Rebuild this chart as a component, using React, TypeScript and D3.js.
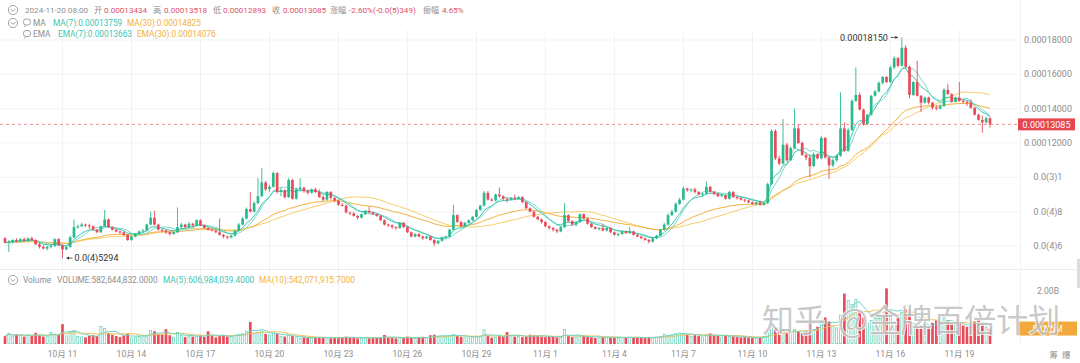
import React from "react";
import * as d3 from "d3";

const W = 1080;
const H = 363;
const UNIT = 1e-8; // prices below are in units of 0.00000001

const open = [
  6450,6200,6250,6350,6300,6400,6300,6450,6350,6100,
  5950,5850,5950,6000,6400,6050,5800,5950,6500,7100,
  7150,7250,7200,7150,6950,6800,7150,7550,7100,6950,
  6850,6800,6650,6350,6550,6700,6850,6900,7250,7650,
  7250,6950,6900,6800,6700,6800,7100,7250,7100,7300,
  7200,7500,7200,7050,6950,6900,6800,6650,6550,6500,
  6600,6900,7250,7600,8150,8000,8500,8900,9700,9300,
  9450,10250,9150,9250,8850,9850,8750,9300,9400,9200,
  9100,9300,9150,8850,8700,9150,8800,8650,8400,8350,
  7950,7900,7750,7650,7850,8050,7950,7850,7750,7500,
  7250,7200,7100,7050,7350,7100,6800,6550,6700,6550,
  6450,6550,6350,6150,6300,6500,6550,6950,7800,7400,
  7150,7350,7500,7700,8100,8350,9100,8700,8650,9000,
  8900,8750,8700,8800,8750,8850,8550,8200,8000,7700,
  7550,7400,7150,7050,6950,6850,7100,7800,7450,7250,
  7400,7850,7600,7300,7100,7000,7050,6900,7050,6800,
  6650,6700,6850,6750,6850,6650,6550,6450,6350,6250,
  6450,6600,6950,7250,7800,8000,8450,8700,9350,9250,
  9300,9150,9000,9050,9450,9150,9050,8900,8950,8750,
  9150,8850,8800,8700,8650,8550,8450,8550,8400,8500,
  9600,12700,11100,10800,11900,11000,11700,12850,12000,11300,
  11150,10650,11350,11100,12300,11150,10700,11000,11250,12850,
  11550,12750,14450,14800,13950,13100,13650,14750,15000,15500,
  15850,15550,16400,16950,16500,17550,16450,14800,15550,14750,
  14350,14650,14350,14050,14000,14150,15100,14850,14400,14650,
  14450,14400,14350,14050,13650,13350,13200,13434,
];

const high = [
  6520,6350,6400,6450,6450,6500,6500,6550,6400,6200,
  6050,6000,6100,6450,6450,6100,6000,6600,7550,7250,
  7350,7300,7300,7200,7000,7200,8100,7600,7150,7000,
  6900,6850,6700,6600,6750,6900,7000,7300,8000,8050,
  7300,7000,6950,6850,6850,8250,7350,7300,7400,7350,
  7550,7550,7250,7100,7000,6950,7600,6700,6600,6650,
  6950,7350,7700,8250,9150,8600,9950,10550,9800,9550,
  10350,10300,9400,9300,9950,9900,9400,9950,9450,9300,
  9350,9400,9300,8950,9200,9200,8850,8700,8500,8400,
  8000,8000,7800,7900,8100,8300,8000,7900,7800,7550,
  7300,7250,7150,7400,7400,7150,6850,6750,6750,6600,
  6600,6600,6400,6350,6550,6600,7000,8400,7850,7450,
  7400,7550,7750,8150,8400,9200,9200,8800,9050,9400,
  8950,8800,8850,9000,8900,8900,8600,8250,8050,7750,
  7600,7450,7200,7100,7000,7150,8500,7850,7500,7450,
  7900,7900,7650,7350,7150,7100,7300,7100,7100,6850,
  6750,6900,6900,7100,6900,6700,6600,6500,6400,6500,
  6650,7000,7350,7900,8100,8550,8800,9450,9400,9350,
  9400,9200,9100,9750,9500,9200,9100,9050,9000,9200,
  9200,8900,8850,8750,8700,8600,8600,8650,8550,9700,
  12800,12800,11250,13400,12000,11800,14000,13100,12100,11400,
  11350,11450,11400,12400,12350,11200,11100,11350,14950,13200,
  12850,14550,16400,14950,14000,13700,14800,15100,15600,15900,
  15900,16500,17050,17000,18150,17700,16500,15600,16800,14800,
  14700,14700,14400,14200,14250,15200,15450,14900,14700,15550,
  14550,14450,14550,14100,13700,13600,13550,13518,
];

const low = [
  6150,5650,6150,6200,6200,6250,6250,6300,6050,5850,
  5800,5750,5850,5950,6000,5294,5750,5900,6450,7000,
  7100,7100,7000,6900,6750,6750,7100,7050,6900,6800,
  6700,6600,6300,6300,6500,6650,6800,6850,7200,7200,
  6900,6800,6700,6600,6650,6750,7000,7050,7050,7100,
  7150,7150,7000,6900,6850,6750,6600,6450,6400,6450,
  6550,6850,7200,7550,7950,7950,8450,8850,9200,9150,
  9400,9050,8900,8750,8800,8700,8700,9250,9100,9000,
  9050,9100,8800,8600,8650,8700,8550,8350,8300,7900,
  7800,7700,7550,7600,7800,7900,7800,7700,7450,7200,
  7100,7000,6950,7000,7050,6750,6500,6500,6500,6350,
  6400,6300,6000,6100,6250,6450,6500,6900,7350,7100,
  7100,7300,7450,7650,8050,8300,8650,8600,8600,8800,
  8650,8550,8650,8700,8700,8500,8150,7950,7650,7500,
  7300,7100,6950,6850,6750,6800,7050,7400,7200,7150,
  7350,7550,7250,7050,6950,6900,6850,6850,6750,6600,
  6550,6650,6700,6700,6600,6500,6400,6300,6150,6200,
  6400,6550,6900,7200,7750,7950,8400,8650,9150,9150,
  9050,8950,8900,9000,9100,8950,8850,8850,8700,8700,
  8800,8700,8650,8550,8500,8400,8350,8350,8350,8450,
  9550,11000,10700,10750,10900,10950,11650,11950,11250,11000,
  10000,10600,11050,11050,11100,9900,10600,10900,11200,11500,
  11500,12700,14400,13900,13000,13050,13600,14700,14950,15400,
  15500,15500,16300,16400,16450,16350,14600,14750,14700,13800,
  14300,14250,13950,13900,13950,14100,14800,14350,14350,14400,
  14300,14150,14000,13600,13300,12600,13150,12893,
];

const close = [
  6200,6250,6350,6300,6400,6300,6450,6350,6100,5950,
  5850,5950,6000,6400,6050,5800,5950,6500,7100,7150,
  7250,7200,7150,6950,6800,7150,7550,7100,6950,6850,
  6800,6650,6350,6550,6700,6850,6900,7250,7650,7250,
  6950,6900,6800,6700,6800,7100,7250,7100,7300,7200,
  7500,7200,7050,6950,6900,6800,6650,6550,6500,6600,
  6900,7250,7600,8150,8000,8500,8900,9700,9300,9450,
  10250,9150,9250,8850,9850,8750,9300,9400,9200,9100,
  9300,9150,8850,8700,9150,8800,8650,8400,8350,7950,
  7900,7750,7650,7850,8050,7950,7850,7750,7500,7250,
  7200,7100,7050,7350,7100,6800,6550,6700,6550,6450,
  6550,6350,6150,6300,6500,6550,6950,7800,7400,7150,
  7350,7500,7700,8100,8350,9100,8700,8650,9000,8900,
  8750,8700,8800,8750,8850,8550,8200,8000,7700,7550,
  7400,7150,7050,6950,6850,7100,7800,7450,7250,7400,
  7850,7600,7300,7100,7000,7050,6900,7050,6800,6650,
  6700,6850,6750,6850,6650,6550,6450,6350,6250,6450,
  6600,6950,7250,7800,8000,8450,8700,9350,9250,9300,
  9150,9000,9050,9450,9150,9050,8900,8950,8750,9150,
  8850,8800,8700,8650,8550,8450,8550,8400,8500,9600,
  12700,11100,10800,11900,11000,11700,12850,12000,11300,11150,
  10650,11350,11100,12300,11150,10700,11000,11250,12850,11550,
  12750,14450,14800,13950,13100,13650,14750,15000,15500,15850,
  15550,16400,16950,16500,17550,16450,14800,15550,14750,14350,
  14650,14350,14050,14000,14150,15100,14850,14400,14650,14450,
  14400,14350,14050,13650,13350,13200,13434,13085,
];

// volume in millions
const volumeM = [
  300,420,310,350,330,280,360,300,420,330,
  280,310,450,390,340,750,320,480,520,300,
  280,250,310,330,300,680,600,420,350,300,
  260,330,380,240,270,300,340,350,520,480,
  380,350,560,330,270,450,330,260,300,280,
  310,320,270,480,320,250,300,330,280,300,
  350,380,400,500,830,420,450,480,380,350,
  420,380,300,280,330,300,250,220,250,240,
  220,260,250,230,240,220,250,230,260,280,
  250,230,210,220,250,220,240,230,260,340,
  250,230,210,240,230,280,240,220,250,270,
  240,330,350,300,310,280,330,380,300,270,
  250,240,280,300,310,550,300,240,260,300,
  280,450,320,280,300,260,280,350,330,300,
  280,260,300,270,250,260,560,300,260,280,
  290,320,270,250,230,240,280,270,250,240,
  230,260,250,270,240,250,230,220,260,240,
  280,300,380,330,360,400,430,400,350,300,
  330,300,280,350,400,320,300,280,340,300,
  290,270,250,260,240,230,220,250,300,420,
  720,600,500,520,420,400,560,450,420,480,
  750,560,650,900,1000,850,700,620,1100,1900,
  1650,1500,1700,1200,1000,800,900,1000,1150,1000,
  2100,1250,850,1000,1200,1300,1300,800,650,700,
  750,650,800,900,850,1000,900,750,700,800,
  700,650,800,850,900,750,650,582.644832,
];

const startTime = new Date(2024, 9, 8, 12, 0, 0);
const tickDates = [
  "2024-10-11","2024-10-14","2024-10-17","2024-10-20","2024-10-23","2024-10-26","2024-10-29",
  "2024-11-01","2024-11-04","2024-11-07","2024-11-10","2024-11-13","2024-11-16","2024-11-19",
];
const tickLabels = [
  "10月 11","10月 14","10月 17","10月 20","10月 23","10月 26","10月 29",
  "11月 1","11月 4","11月 7","11月 10","11月 13","11月 16","11月 19",
];
const priceTicks = [0.00018, 0.00016, 0.00014, 0.00012, 0.0001, 0.00008, 0.00006];
const priceTickLabels = ["0.00018000","0.00016000","0.00014000","0.00012000","0.0(3)1","0.0(4)8","0.0(4)6"];
const volTicks = [2e9];
const volTickLabels = ["2.00B"];
const lastPriceLabel = "0.00013085";
const lastVolumeLabel = "582.6M";
const highLabel = "0.00018150";
const lowLabel = "0.0(4)5294";

const header1 = [
  { t: "2024-11-20 08:00", x: 25, k: "g" },
  { t: "开", x: 94, k: "g" }, { t: "0.00013434", x: 104, k: "r" },
  { t: "高", x: 153, k: "g" }, { t: "0.00013518", x: 164, k: "r" },
  { t: "低", x: 213, k: "g" }, { t: "0.00012893", x: 223, k: "r" },
  { t: "收", x: 272, k: "g" }, { t: "0.00013085", x: 283, k: "r" },
  { t: "涨幅", x: 330, k: "g" }, { t: "-2.60%(-0.0(5)349)", x: 349, k: "r" },
  { t: "振幅", x: 423, k: "g" }, { t: "4.65%", x: 442, k: "r" },
];
const header2 = [
  { t: "MA", x: 33, k: "g" },
  { t: "MA(7):0.00013759", x: 53, k: "t" },
  { t: "MA(30):0.00014825", x: 127, k: "o" },
];
const header3 = [
  { t: "EMA", x: 33, k: "g" },
  { t: "EMA(7):0.00013663", x: 58, k: "t" },
  { t: "EMA(30):0.00014076", x: 137, k: "o" },
];
const header4 = [
  { t: "Volume", x: 23, k: "g" },
  { t: "VOLUME:582,644,832.0000", x: 57, k: "g" },
  { t: "MA(5):606,984,039.4000", x: 163, k: "t" },
  { t: "MA(10):542,071,915.7000", x: 259, k: "o" },
];

const UP = "#2bb98e";
const DOWN = "#e84c5a";
const GRAY = "#8e8e8e";
const RED_TXT = "#e0506a";
const TEAL = "#3dc6b3";
const ORANGE = "#f2b23c";
const FONT = "Roboto, 'Noto Sans', 'Noto Sans CJK SC', sans-serif";
const CJK = "'Noto Sans CJK SC', sans-serif";
const colorOf: Record<string, string> = { g: GRAY, r: RED_TXT, t: TEAL, o: ORANGE };

function sma(arr: number[], n: number) {
  return arr.map((_, i) => d3.mean(arr.slice(Math.max(0, i - n + 1), i + 1)) as number);
}
function ema(arr: number[], n: number) {
  const k = 2 / (n + 1);
  let prev = arr[0];
  return arr.map((v, i) => (prev = i === 0 ? v : v * k + prev * (1 - k)));
}

const CircleIcon = ({ x, y }: { x: number; y: number }) => (
  <g>
    <circle cx={x} cy={y} r={4.6} fill="none" stroke="#9a9a9a" strokeWidth={0.9} />
    <path d={`M${x - 2.2},${y - 0.8} L${x},${y + 1.3} L${x + 2.2},${y - 0.8}`} fill="none" stroke="#9a9a9a" strokeWidth={0.9} />
  </g>
);
const BubbleIcon = ({ x, y }: { x: number; y: number }) => (
  <g fill="none" stroke="#9a9a9a" strokeWidth={0.9}>
    <rect x={x - 3.5} y={y - 4} width={7} height={6} rx={2.5} />
    <path d={`M${x - 1.5},${y + 2} L${x - 2.5},${y + 4}`} />
  </g>
);

export default function App() {
  const times = close.map((_, i) => d3.timeHour.offset(startTime, 4 * i));
  const x = d3.scaleTime().domain([times[0], times[times.length - 1]]).range([5, 990]);
  const y = d3.scaleLinear().domain([0.00006, 0.00018]).range([246, 40]);
  const yv = d3.scaleLinear().domain([0, 2e9]).range([344, 291]);
  const parse = d3.timeParse("%Y-%m-%d");
  const bw = 2.7;

  const cl = close.map((c) => c * UNIT);
  const vols = volumeM.map((v) => v * 1e6);
  const ma7 = sma(cl, 7), ma30 = sma(cl, 30), ema7 = ema(cl, 7), ema30 = ema(cl, 30);
  const vma5 = sma(vols, 5), vma10 = sma(vols, 10);

  const line = (arr: number[]) =>
    d3.line<number>().x((_, i) => x(times[i])).y((d) => y(d))(arr) || "";
  const vline = (arr: number[]) =>
    d3.line<number>().x((_, i) => x(times[i])).y((d) => yv(d))(arr) || "";

  const hiIdx = d3.maxIndex(high);
  const loIdx = d3.minIndex(low);
  const lastY = y(cl[cl.length - 1]);
  const lastVY = yv(vols[vols.length - 1]);

  return (
    <div style={{ position: "fixed", left: 0, top: 0, width: W, height: H, background: "#fff" }}>
      <svg width={W} height={H} style={{ display: "block", fontFamily: FONT }}>
        <rect width={W} height={H} fill="#fff" />
        {/* grid */}
        {tickDates.map((d, i) => {
          const xx = x(parse(d) as Date);
          return <line key={"vg" + i} x1={xx} x2={xx} y1={30} y2={346} stroke="#f2f2f2" strokeWidth={1} />;
        })}
        {priceTicks.map((p, i) => (
          <line key={"hg" + i} x1={0} x2={1020} y1={y(p)} y2={y(p)} stroke="#f3f3f3" strokeWidth={1} />
        ))}
        <line x1={0} x2={1080} y1={269.5} y2={269.5} stroke="#ececec" strokeWidth={1} />
        <line x1={1020.5} x2={1020.5} y1={0} y2={346} stroke="#f3f3f3" strokeWidth={1} />

        {/* MA lines */}
        <path d={line(ma30)} fill="none" stroke="#f7cd6a" strokeWidth={1} />
        <path d={line(ema30)} fill="none" stroke={ORANGE} strokeWidth={1} />
        <path d={line(ma7)} fill="none" stroke="#7ad9cd" strokeWidth={1} />
        <path d={line(ema7)} fill="none" stroke={TEAL} strokeWidth={1} />

        {/* candles */}
        {close.map((c, i) => {
          const o = open[i] * UNIT, cc = c * UNIT;
          const up = cc >= o;
          const col = up ? UP : DOWN;
          const xx = x(times[i]);
          const top = y(Math.max(o, cc));
          const h = Math.max(1, Math.abs(y(o) - y(cc)));
          return (
            <g key={"c" + i}>
              <line x1={xx} x2={xx} y1={y(high[i] * UNIT)} y2={y(low[i] * UNIT)} stroke={col} strokeWidth={0.9} />
              <rect x={xx - bw / 2} y={top} width={bw} height={h} fill={col} />
            </g>
          );
        })}

        {/* current price line */}
        <line x1={0} x2={1018} y1={lastY} y2={lastY} stroke="#ec8a93" strokeWidth={1} strokeDasharray="3,3" />
        <rect x={1018} y={lastY - 6} width={57} height={12} fill="#e5474f" />
        <text x={1046.5} y={lastY} dy="0.35em" textAnchor="middle" fontSize={9} fill="#fff">{lastPriceLabel}</text>

        {/* extremes */}
        {(() => {
          const hx = x(times[hiIdx]);
          const hy = y(high[hiIdx] * UNIT);
          const lx = x(times[loIdx]);
          const ly = y(low[loIdx] * UNIT);
          return (
            <g>
              <text x={hx - 14} y={hy} dy="0.35em" textAnchor="end" fontSize={9} fill="#333">{highLabel}</text>
              <line x1={hx - 11} x2={hx - 4} y1={hy} y2={hy} stroke="#333" strokeWidth={0.8} />
              <path d={`M${hx - 4},${hy} L${hx - 6.5},${hy - 1.6} L${hx - 6.5},${hy + 1.6} Z`} fill="#333" />
              <line x1={lx + 4} x2={lx + 10} y1={ly} y2={ly} stroke="#333" strokeWidth={0.8} />
              <path d={`M${lx + 4},${ly} L${lx + 6.5},${ly - 1.6} L${lx + 6.5},${ly + 1.6} Z`} fill="#333" />
              <text x={lx + 12} y={ly} dy="0.35em" fontSize={9} fill="#333">{lowLabel}</text>
            </g>
          );
        })()}

        {/* price axis labels */}
        {priceTicks.map((p, i) => (
          <text key={"pt" + i} x={1048} y={y(p)} dy="0.35em" textAnchor="middle" fontSize={9} fill={GRAY}>
            {priceTickLabels[i]}
          </text>
        ))}

        {/* volume bars */}
        {vols.map((v, i) => {
          const up = close[i] >= open[i];
          const xx = x(times[i]);
          const top = yv(v);
          const h = Math.max(1, 344 - top);
          return up ? (
            <rect key={"v" + i} x={xx - bw / 2 + 0.35} y={top + 0.35} width={bw - 0.7} height={Math.max(0.5, h - 0.7)} fill="#fff" stroke="#5ccfb5" strokeWidth={0.7} />
          ) : (
            <rect key={"v" + i} x={xx - bw / 2} y={top} width={bw} height={h} fill={DOWN} />
          );
        })}
        <path d={vline(vma10)} fill="none" stroke="#f4c257" strokeWidth={1} />
        <path d={vline(vma5)} fill="none" stroke="#6fd5c6" strokeWidth={1} />

        {volTicks.map((v, i) => (
          <text key={"vt" + i} x={1048} y={yv(v)} dy="0.35em" textAnchor="middle" fontSize={8.5} fill={GRAY}>
            {volTickLabels[i]}
          </text>
        ))}
        <rect x={1018} y={lastVY - 7} width={59} height={14} fill="#f0a93a" />
        <text x={1047.5} y={lastVY} dy="0.35em" textAnchor="middle" fontSize={9} fill="#fff">{lastVolumeLabel}</text>
        <rect x={1077} y={259} width={3} height={29} fill="#dcdcdc" />

        {/* x axis labels */}
        {tickDates.map((d, i) => (
          <text key={"xt" + i} x={x(parse(d) as Date)} y={354} dy="0.35em" textAnchor="middle" fontSize={8.5} fill={GRAY} fontFamily={FONT}>
            {tickLabels[i]}
          </text>
        ))}
        <text x={1062} y={355} dy="0.35em" textAnchor="middle" fontSize={8.5} fill={GRAY} fontFamily={CJK} letterSpacing={4}>筹爆</text>

        {/* headers */}
        <CircleIcon x={13} y={10} />
        {header1.map((h, i) => (
          <text key={"h1" + i} x={h.x} y={10} dy="0.35em" fontSize={8.1} fill={colorOf[h.k]}>{h.t}</text>
        ))}
        <CircleIcon x={13} y={23} />
        <BubbleIcon x={27} y={23} />
        {header2.map((h, i) => (
          <text key={"h2" + i} x={h.x} y={23} dy="0.35em" fontSize={8.3} fill={colorOf[h.k]}>{h.t}</text>
        ))}
        <BubbleIcon x={27} y={34.5} />
        {header3.map((h, i) => (
          <text key={"h3" + i} x={h.x} y={34.5} dy="0.35em" fontSize={8.3} fill={colorOf[h.k]}>{h.t}</text>
        ))}
        <CircleIcon x={13} y={280} />
        {header4.map((h, i) => (
          <text key={"h4" + i} x={h.x} y={280} dy="0.35em" fontSize={8.3} fill={colorOf[h.k]}>{h.t}</text>
        ))}

        {/* watermark */}
        <g fontFamily={CJK} fontSize={32} fill="#a5a5a5" fillOpacity={0.6} stroke="#ffffff" strokeWidth={1.6} strokeOpacity={0.85} style={{ paintOrder: "stroke" }}>
          <text x={762} y={332}>知乎</text>
          <text x={838} y={332}>@金牌百倍计划</text>
        </g>
      </svg>
    </div>
  );
}
